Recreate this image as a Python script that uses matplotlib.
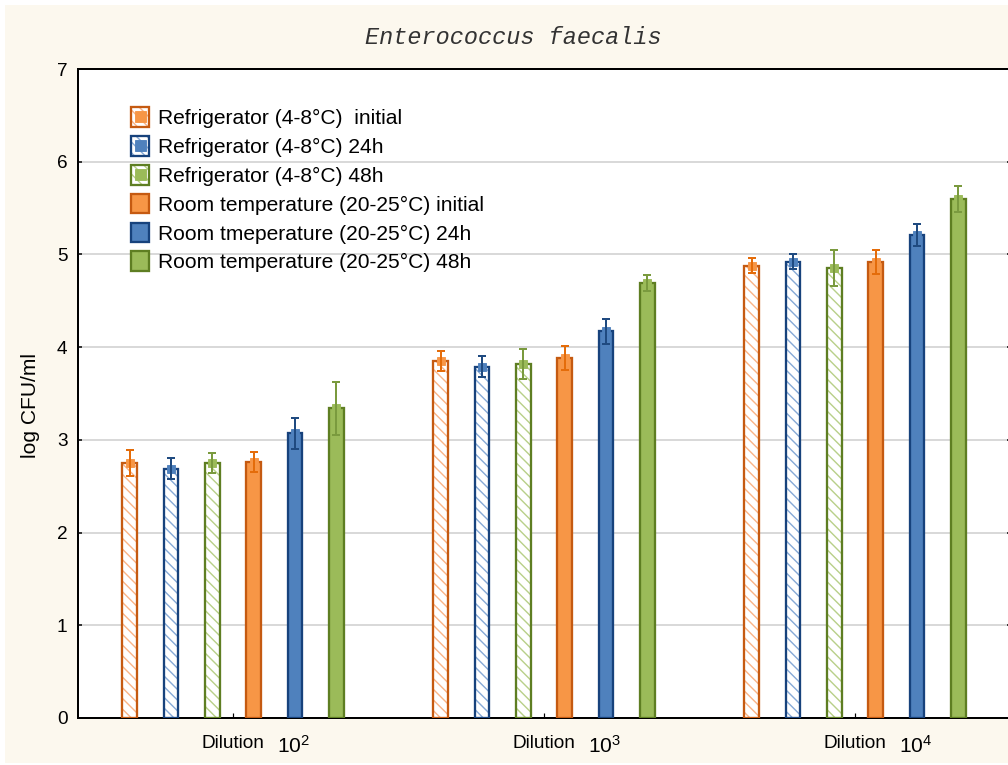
import matplotlib
matplotlib.use("Agg")
import matplotlib.pyplot as plt
import numpy as np
from matplotlib.patches import Patch, Rectangle
from matplotlib.lines import Line2D
from matplotlib.legend_handler import HandlerTuple

# Canvas set up in pixels; a low dpi keeps the hatch spacing fine-grained
DPI = 64
W, H = 1008, 765
PT = 72 / DPI


def px(v):
    """Convert a size in pixels to points."""
    return v * PT


plt.rcParams["font.family"] = ["Liberation Sans", "DejaVu Sans"]
plt.rcParams["mathtext.default"] = "regular"
plt.rcParams["hatch.linewidth"] = px(1.4)

# ---- data -------------------------------------------------------------
dilution_exponents = [2, 3, 4]
series_labels = [
    "Refrigerator (4-8°C)  initial",
    "Refrigerator (4-8°C) 24h",
    "Refrigerator (4-8°C) 48h",
    "Room temperature (20-25°C) initial",
    "Room tmeperature (20-25°C) 24h",
    "Room temperature (20-25°C) 48h",
]
fridge_initial = [2.75, 3.85, 4.88]
fridge_24h = [2.69, 3.79, 4.92]
fridge_48h = [2.75, 3.82, 4.85]
room_initial = [2.76, 3.88, 4.92]
room_24h = [3.07, 4.17, 5.21]
room_48h = [3.34, 4.69, 5.60]

fridge_initial_err = [0.14, 0.105, 0.085]
fridge_24h_err = [0.11, 0.11, 0.08]
fridge_48h_err = [0.11, 0.16, 0.195]
room_initial_err = [0.11, 0.13, 0.13]
room_24h_err = [0.165, 0.135, 0.115]
room_48h_err = [0.285, 0.085, 0.14]

means = [fridge_initial, fridge_24h, fridge_48h, room_initial, room_24h, room_48h]
errors = [fridge_initial_err, fridge_24h_err, fridge_48h_err,
          room_initial_err, room_24h_err, room_48h_err]
hatched = [True, True, True, False, False, False]

# ---- styles -----------------------------------------------------------
fills = {"o": "#F79646", "b": "#4F81BD", "g": "#9BBB59"}
edges = {"o": "#C55A11", "b": "#17427C", "g": "#5E7E22"}
hatch_cols = {"o": "#F9B487", "b": "#86A9D6", "g": "#B8D089"}
err_cols = {"o": "#E46C0A", "b": "#1F4A80", "g": "#7A9A3E"}
series_hue = ["o", "b", "g", "o", "b", "g"]
HATCH = "\\\\"

fig = plt.figure(figsize=(W / DPI, H / DPI), dpi=DPI, facecolor="white")
fig.patches.append(Rectangle((5 / W, 2 / H), 1, 758 / H, transform=fig.transFigure,
                             facecolor="#FCF8EE", edgecolor="none", zorder=-10))

ax = fig.add_axes([77.5 / W, 47 / H, 933 / W, 649 / H])
ax.set_zorder(1)
ax.set_facecolor("white")
ax.set_xlim(-0.5, 2.5)
ax.set_ylim(0, 7)

x = np.arange(len(dilution_exponents))
spacing = 0.133
width = 0.047

handles = []
for i, (vals, errs) in enumerate(zip(means, errors)):
    hue = series_hue[i]
    xs = x + (i - 2.5) * spacing
    if hatched[i]:
        ax.bar(xs, vals, width, color="white", edgecolor=hatch_cols[hue],
               hatch=HATCH, linewidth=0, zorder=2)
        ax.bar(xs, vals, width, facecolor="none", edgecolor=edges[hue],
               linewidth=px(2.3), zorder=3)
        h = (Patch(facecolor="white", edgecolor=hatch_cols[hue], hatch=HATCH, linewidth=0),
             Patch(facecolor="none", edgecolor=edges[hue], linewidth=px(2.3)),
             Line2D([], [], marker="s", ls="none", ms=px(11), color=fills[hue]))
    else:
        ax.bar(xs, vals, width, facecolor=fills[hue], edgecolor=edges[hue],
               linewidth=px(2.3), zorder=3)
        h = Patch(facecolor=fills[hue], edgecolor=edges[hue], linewidth=px(2.3))
    handles.append(h)
    ax.plot(xs, vals, "s", ms=px(8), color=fills[hue], zorder=4)
    ax.errorbar(xs, vals, yerr=errs, fmt="none", ecolor=err_cols[hue],
                elinewidth=px(2), capsize=px(4), capthick=px(2), zorder=5)

# grid, spines, ticks
ax.set_axisbelow(True)
ax.yaxis.grid(True, color="#D9D9D9", linewidth=px(2))
for side in ("left", "bottom", "top"):
    ax.spines[side].set_linewidth(px(2))
    ax.spines[side].set_color("black")
ax.spines["right"].set_visible(False)

ax.set_yticks(range(8))
ax.tick_params(axis="y", left=True, right=True, direction="in", length=px(4),
               width=px(1.5), labelsize=px(19), pad=px(10))
ax.set_xticks(x)
ax.set_xticklabels([])
ax.tick_params(axis="x", direction="in", length=px(5), width=px(1.2))

# category labels: "Dilution" centred on the tick, the power of ten beside it
for xi, e in zip(x, dilution_exponents):
    ax.annotate("Dilution", xy=(xi, 0), xycoords=("data", "axes fraction"),
                xytext=(0, px(-30)), textcoords="offset points",
                ha="center", va="baseline", fontsize=px(19))
    ax.annotate("$\\mathregular{10^{%d}}$" % e, xy=(xi, 0),
                xycoords=("data", "axes fraction"),
                xytext=(px(44), px(-35)), textcoords="offset points",
                ha="left", va="baseline", fontsize=px(21))

fig.text(30 / W, 1 - 406 / H, "log CFU/ml", rotation=90, ha="center", va="center",
         fontsize=px(21))
fig.text(513 / W, 1 - 44 / H, "Enterococcus faecalis", ha="center", va="baseline",
         fontsize=px(23.5), family="Liberation Mono", style="italic", color="#333333")

ax.legend(handles, series_labels, loc="upper left",
          bbox_to_anchor=(131 / W, 1 - 107.5 / H), bbox_transform=fig.transFigure,
          frameon=False, fontsize=px(21), borderpad=0, borderaxespad=0,
          handlelength=0.86, handleheight=1.05, handletextpad=0.42,
          labelspacing=0.375, handler_map={tuple: HandlerTuple(ndivide=1)})

fig.savefig("out.png", dpi=DPI)
